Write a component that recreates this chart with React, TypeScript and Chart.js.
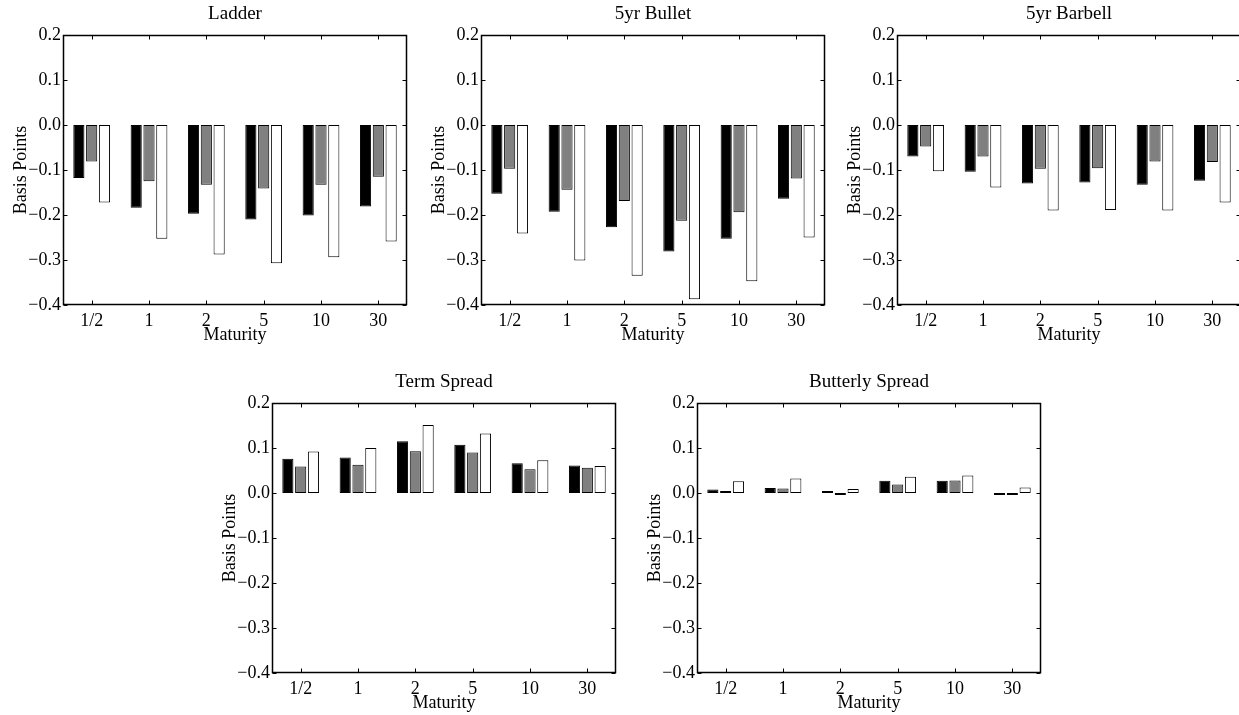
import React, { useEffect, useRef } from 'react';
import { Chart, registerables } from 'chart.js';

Chart.register(...registerables);

// ---------- data ----------
const categories = ['1/2', '1', '2', '5', '10', '30'];

const ladderBlack = [-0.118, -0.184, -0.197, -0.210, -0.201, -0.181];
const ladderGray = [-0.081, -0.125, -0.133, -0.141, -0.133, -0.115];
const ladderWhite = [-0.172, -0.253, -0.288, -0.307, -0.294, -0.259];

const bulletBlack = [-0.153, -0.193, -0.227, -0.281, -0.253, -0.164];
const bulletGray = [-0.097, -0.144, -0.169, -0.213, -0.194, -0.119];
const bulletWhite = [-0.241, -0.301, -0.335, -0.387, -0.347, -0.250];

const barbellBlack = [-0.070, -0.104, -0.130, -0.128, -0.133, -0.124];
const barbellGray = [-0.048, -0.070, -0.097, -0.096, -0.081, -0.082];
const barbellWhite = [-0.103, -0.139, -0.190, -0.189, -0.190, -0.172];

const termBlack = [0.076, 0.079, 0.115, 0.107, 0.066, 0.061];
const termGray = [0.059, 0.063, 0.093, 0.090, 0.053, 0.056];
const termWhite = [0.092, 0.100, 0.151, 0.132, 0.073, 0.060];

const butterflyBlack = [0.008, 0.011, 0.001, 0.027, 0.027, -0.002];
const butterflyGray = [0.001, 0.010, -0.001, 0.019, 0.028, -0.003];
const butterflyWhite = [0.026, 0.032, 0.009, 0.036, 0.039, 0.012];

const yMin = -0.4;
const yMax = 0.2;
const yStep = 0.1;

const panelTitles = ['Ladder', '5yr Bullet', '5yr Barbell', 'Term Spread', 'Butterly Spread'];
const xAxisLabel = 'Maturity';
const yAxisLabel = 'Basis Points';

// ---------- layout / style ----------
const FONT = '"Liberation Serif", "Times New Roman", Times, serif';
const LEFT_M = 63;
const TOP_M = 35;
const BOTTOM_M = 45;
const RIGHT_M = 4;
const PLOT_W = 344;
const PLOT_H = 270;

const panels = [
  { title: panelTitles[0], series: [ladderBlack, ladderGray, ladderWhite], x: 63, y: 35 },
  { title: panelTitles[1], series: [bulletBlack, bulletGray, bulletWhite], x: 481, y: 35 },
  { title: panelTitles[2], series: [barbellBlack, barbellGray, barbellWhite], x: 897, y: 35 },
  { title: panelTitles[3], series: [termBlack, termGray, termWhite], x: 272, y: 403 },
  { title: panelTitles[4], series: [butterflyBlack, butterflyGray, butterflyWhite], x: 697, y: 403 },
];

const fills = ['#000000', '#808080', '#ffffff'];

function fmt(v: number): string {
  const r = Math.round(v * 10) / 10;
  return (r < 0 ? '\u2212' : '') + Math.abs(r).toFixed(1);
}

const matlabBox = {
  id: 'matlabBox',
  afterDatasetsDraw(chart: any, _args: any, opts: any) {
    const { ctx, chartArea: a, scales } = chart;
    ctx.save();
    ctx.strokeStyle = '#000';
    ctx.lineWidth = 1.5;
    const l = Math.round(a.left) + 0.5;
    const r = Math.round(a.right) - 0.5;
    const t = Math.round(a.top) + 0.5;
    const b = Math.round(a.bottom) - 0.5;
    ctx.strokeRect(l, t, r - l, b - t);
    ctx.lineWidth = 1;
    const len = 4;
    const xs = scales.x;
    xs.ticks.forEach((_t: any, i: number) => {
      const px = Math.round(xs.getPixelForTick(i)) + 0.5;
      ctx.beginPath();
      ctx.moveTo(px, b);
      ctx.lineTo(px, b - len);
      ctx.moveTo(px, t);
      ctx.lineTo(px, t + len);
      ctx.stroke();
    });
    const ys = scales.y;
    ys.ticks.forEach((_t: any, i: number) => {
      const py = Math.round(ys.getPixelForTick(i)) + 0.5;
      ctx.beginPath();
      ctx.moveTo(l, py);
      ctx.lineTo(l + len, py);
      ctx.moveTo(r, py);
      ctx.lineTo(r - len, py);
      ctx.stroke();
    });
    ctx.fillStyle = '#000';
    ctx.font = `19px ${FONT}`;
    ctx.textAlign = 'center';
    ctx.textBaseline = 'middle';
    ctx.fillText(opts.title, (a.left + a.right) / 2, a.top - 21);
    ctx.restore();
  },
};

function Panel(props: { title: string; series: number[][]; x: number; y: number }) {
  const ref = useRef<HTMLCanvasElement | null>(null);
  const w = LEFT_M + PLOT_W + RIGHT_M;
  const h = TOP_M + PLOT_H + BOTTOM_M;

  useEffect(() => {
    if (!ref.current) return;
    const chart = new Chart(ref.current, {
      type: 'bar',
      data: {
        labels: categories,
        datasets: props.series.map((s, i) => ({
          data: s,
          backgroundColor: fills[i],
          borderColor: '#000',
          borderWidth: 1,
          borderSkipped: false,
          minBarLength: 2,
          categoryPercentage: 0.67,
          barPercentage: 0.87,
        })),
      },
      options: {
        responsive: false,
        animation: false,
        events: [],
        layout: { padding: { top: TOP_M, right: RIGHT_M, left: 0, bottom: 0 } },
        plugins: {
          legend: { display: false },
          tooltip: { enabled: false },
          title: { display: false },
          matlabBox: { title: props.title },
        } as any,
        scales: {
          x: {
            type: 'category',
            offset: true,
            grid: { display: false, drawTicks: false },
            border: { display: false },
            ticks: {
              color: '#000',
              font: { family: FONT, size: 18 },
              padding: 5,
              maxRotation: 0,
              autoSkip: false,
            },
            title: {
              display: true,
              text: xAxisLabel,
              color: '#000',
              font: { family: FONT, size: 18 },
              padding: { top: 0, bottom: 4 },
            },
            afterFit: (s: any) => {
              s.height = BOTTOM_M;
            },
          },
          y: {
            min: yMin,
            max: yMax,
            grid: { display: false, drawTicks: false },
            border: { display: false },
            ticks: {
              stepSize: yStep,
              color: '#000',
              font: { family: FONT, size: 18 },
              padding: 2,
              callback: (v: any) => fmt(Number(v)),
            },
            title: {
              display: true,
              text: yAxisLabel,
              color: '#000',
              font: { family: FONT, size: 18 },
              padding: { top: 10, bottom: 0 },
            },
            afterFit: (s: any) => {
              s.width = LEFT_M;
            },
          },
        },
      } as any,
      plugins: [matlabBox],
    });
    return () => chart.destroy();
  }, []);

  return (
    <canvas
      ref={ref}
      width={w}
      height={h}
      style={{
        position: 'absolute',
        left: props.x - LEFT_M,
        top: props.y - TOP_M,
        width: w,
        height: h,
      }}
    />
  );
}

export default function App() {
  return (
    <div
      style={{
        position: 'absolute',
        left: 0,
        top: 0,
        width: 1239,
        height: 715,
        overflow: 'hidden',
        background: '#fff',
      }}
    >
      {panels.map((p) => (
        <Panel key={p.title} title={p.title} series={p.series} x={p.x} y={p.y} />
      ))}
    </div>
  );
}
